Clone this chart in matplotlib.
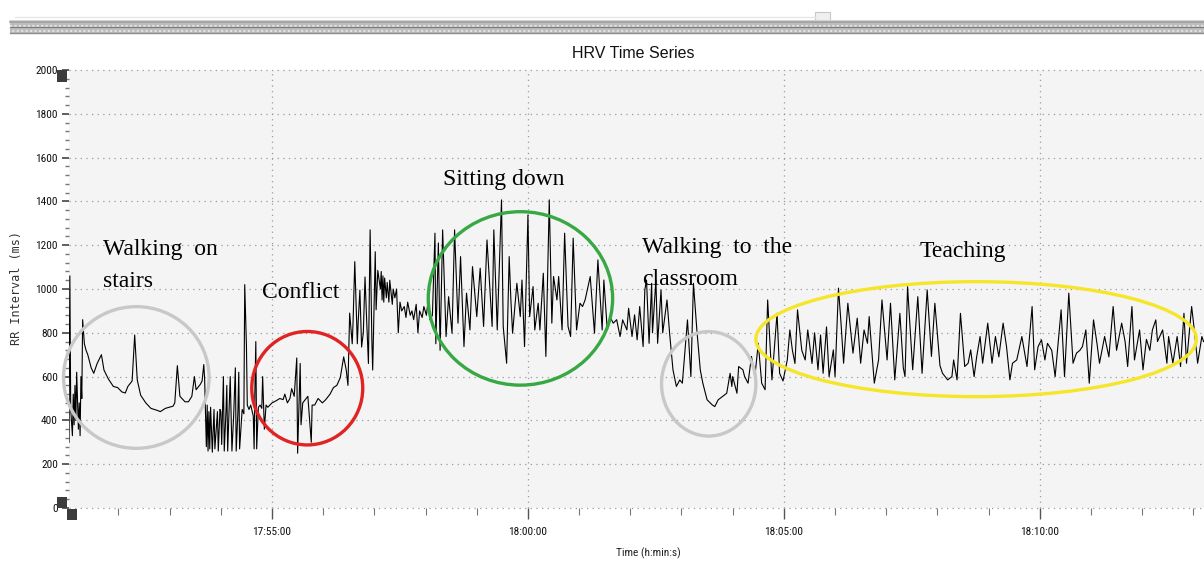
import matplotlib
matplotlib.use('Agg')
import matplotlib.pyplot as plt
from matplotlib import font_manager
from matplotlib.font_manager import FontProperties
from matplotlib.patches import Ellipse, Rectangle
from matplotlib.lines import Line2D
from matplotlib.ticker import FixedLocator, MultipleLocator, FuncFormatter

# ---------------- data (seconds after 17:51:00, RR interval in ms) ----------------
t_walk_stairs = [2, 3, 4, 6, 7, 8, 9, 10, 11, 13, 14, 15, 16, 17, 18, 20, 22, 24, 28, 31, 35, 40, 43, 48, 54,
                 59, 64, 68, 71, 76, 79, 82, 86, 92, 98, 106, 109, 115, 124, 126, 129, 132, 138, 142, 146,
                 149, 151, 156, 158, 160, 161]
rr_walk_stairs = [300, 1060, 450, 330, 520, 380, 560, 400, 620, 360, 480, 330, 600, 500, 860, 750, 720, 700,
                  640, 615, 660, 700, 630, 590, 555, 550, 530, 525, 555, 580, 790, 585, 515, 480, 455, 445,
                  440, 455, 465, 480, 650, 510, 485, 485, 510, 600, 540, 565, 580, 655, 590]

t_noisy = [163, 164, 165, 166, 167, 168, 170, 172, 173, 176, 177, 179, 180, 181, 183, 184, 186, 187, 188, 191,
           192, 193, 195, 197, 198, 200, 201, 202, 205, 207, 208, 210, 211, 213, 215, 218, 219, 220, 221, 222,
           224, 226]
rr_noisy = [280, 470, 260, 440, 270, 460, 255, 450, 270, 440, 260, 450, 440, 290, 600, 260, 440, 560, 260, 600,
            430, 260, 420, 640, 260, 440, 620, 270, 450, 430, 1020, 740, 470, 450, 470, 420, 270, 560, 760, 270,
            460, 470]

t_conflict = [228, 229, 231, 233, 235, 240, 245, 249, 253, 255, 258, 261, 263, 266, 269, 270, 273, 274, 276,
              280, 282, 286, 287, 290, 294, 299, 303, 308, 312, 316, 320, 324, 327, 329]
rr_conflict = [455, 600, 360, 470, 460, 480, 490, 500, 495, 520, 480, 500, 545, 510, 685, 250, 660, 380, 480,
               500, 510, 300, 470, 470, 500, 480, 495, 520, 550, 560, 595, 690, 630, 560]

t_after_conflict = [331, 334, 335, 337, 340, 341, 343, 345, 347, 349, 351, 353, 355, 357, 358, 361, 362, 364,
                    367, 368, 369, 370, 371, 372, 374, 375, 377, 378, 381, 382, 384, 386, 388, 390, 392, 395,
                    397, 399, 402, 404, 406, 409, 411, 413, 416, 418, 421, 423, 425, 428, 431, 432, 435, 437]
rr_after_conflict = [890, 750, 850, 1125, 750, 850, 995, 735, 800, 1055, 850, 660, 1270, 770, 630, 1170, 905,
                     1085, 1000, 1080, 950, 1060, 940, 1050, 960, 1030, 940, 1040, 930, 1000, 960, 1000, 800,
                     940, 900, 920, 870, 940, 880, 900, 860, 930, 800, 900, 870, 920, 880, 950, 860, 880, 1255,
                     750, 1210, 720]

t_sitting = [440, 444, 447, 451, 454, 458, 461, 465, 468, 472, 475, 480, 484, 488, 492, 498, 500, 504, 509, 511,
             515, 518, 520, 522, 527, 531, 533, 536, 540, 542, 546, 548, 552, 554, 558, 561, 565, 568, 570, 574,
             576, 580, 583, 587, 590, 593, 597, 601, 604, 607, 613, 618, 622, 627, 629, 633, 636, 640, 644, 648,
             651, 656, 658, 662]
rr_sitting = [1270, 783, 965, 798, 1270, 844, 1148, 737, 981, 813, 1102, 874, 1095, 829, 1224, 829, 1270, 813,
              1407, 829, 661, 1148, 950, 798, 1026, 874, 1041, 737, 1338, 874, 1011, 813, 935, 813, 1072, 692,
              1407, 844, 1057, 950, 1057, 813, 1255, 829, 783, 1232, 813, 935, 920, 950, 1057, 798, 1133, 813,
              1041, 813, 874, 844, 860, 783, 859, 813, 912, 783]

t_walk_class = [665, 668, 671, 675, 677, 679, 682, 685, 686, 690, 692, 696, 698, 703, 706, 710, 714, 718, 721,
                726, 727, 731, 734, 738, 742, 745, 750, 756, 759, 763, 768, 773, 777, 779, 780, 785, 787, 792,
                794, 798, 802, 806, 810, 814, 818, 821, 826, 832, 835, 839, 844, 847, 850, 853, 856, 861, 865,
                868, 873, 876, 880]
rr_walk_class = [882, 768, 920, 737, 996, 1041, 752, 1026, 800, 1041, 752, 996, 800, 950, 800, 631, 555, 585,
                 570, 813, 859, 600, 1026, 813, 631, 570, 494, 471, 463, 494, 509, 524, 615, 555, 600, 524, 646,
                 631, 600, 570, 692, 600, 752, 570, 540, 950, 585, 889, 615, 580, 676, 813, 720, 660, 905, 720,
                 676, 813, 660, 800, 631]

t_teach_a = [883, 886, 890, 893, 898, 900, 904, 907, 910, 915, 921, 926, 930, 934, 938, 940, 946, 951, 955, 961,
             965, 970, 976, 980, 982, 985, 991, 997, 1002, 1008, 1013, 1017, 1023, 1026, 1032, 1037, 1039, 1043,
             1047, 1052, 1056, 1059, 1063, 1066, 1070, 1073, 1079, 1084, 1088, 1092, 1097, 1101]
rr_teach_a = [790, 615, 827, 600, 722, 600, 1004, 844, 661, 935, 707, 867, 661, 813, 752, 874, 570, 676, 950,
              676, 935, 585, 889, 640, 600, 1011, 631, 965, 615, 996, 692, 935, 650, 615, 585, 600, 676, 585,
              889, 646, 661, 722, 600, 690, 783, 661, 844, 661, 783, 690, 844, 737]

t_teach_b = [1105, 1108, 1113, 1119, 1125, 1131, 1134, 1138, 1142, 1146, 1149, 1154, 1158, 1165, 1169, 1174,
             1179, 1183, 1187, 1190, 1194, 1198, 1203, 1207, 1210, 1216, 1221, 1226, 1230, 1236, 1240, 1243,
             1248, 1251, 1257, 1261, 1265, 1269, 1272, 1276, 1278, 1284, 1289, 1291, 1296, 1301, 1305, 1309,
             1312, 1318, 1322, 1325, 1330, 1332]
rr_teach_b = [585, 661, 676, 783, 646, 920, 631, 737, 768, 676, 752, 720, 600, 905, 600, 981, 661, 707, 720,
              737, 813, 570, 859, 752, 661, 783, 690, 920, 720, 844, 760, 646, 920, 676, 813, 631, 770, 720,
              813, 859, 760, 813, 661, 783, 661, 783, 646, 889, 661, 920, 783, 661, 783, 760]

major_ticks_sec = [240, 540, 840, 1140]  # 17:55, 18:00, 18:05, 18:10

t_all = (t_walk_stairs + t_noisy + t_conflict + t_after_conflict + t_sitting + t_walk_class
         + t_teach_a + t_teach_b)
rr_all = (rr_walk_stairs + rr_noisy + rr_conflict + rr_after_conflict + rr_sitting + rr_walk_class
          + rr_teach_a + rr_teach_b)

# ---------------- fonts ----------------
def find_condensed():
    prefs = ['Liberation Sans Narrow', 'Roboto Condensed', 'Open Sans Condensed', 'Noto Sans Condensed',
             'DejaVu Sans Condensed', 'Arial Narrow']
    fl = font_manager.fontManager.ttflist
    for p in prefs:
        for f in fl:
            if f.name == p and f.style == 'normal' and f.weight in (400, 'normal', 'regular'):
                return f.fname
    for f in fl:
        st = f.stretch
        is_cond = (isinstance(st, str) and 'condensed' in st) or (isinstance(st, (int, float)) and st <= 87.5)
        if is_cond and f.style == 'normal' and f.weight in (400, 'normal', 'regular') and 'Sans' in f.name \
                and 'Mono' not in f.name and 'CJK' not in f.name:
            return f.fname
    return None


cond_path = find_condensed()
if cond_path:
    tick_fp = FontProperties(fname=cond_path, size=8.2)
    xlab_fp = FontProperties(fname=cond_path, size=8.2)
else:
    tick_fp = FontProperties(family=['Liberation Sans', 'DejaVu Sans'], size=7)
    xlab_fp = FontProperties(family=['Liberation Sans', 'DejaVu Sans'], size=7)

# ---------------- figure ----------------
W, H = 1204, 561
fig = plt.figure(figsize=(W / 100, H / 100), dpi=100)
fig.patch.set_facecolor('white')
ax = fig.add_axes([69 / W, 1 - 508 / H, (1204 - 69) / W, (508 - 70) / H])
ax.set_facecolor('#f4f4f4')

ax.plot(t_all, rr_all, color='black', lw=0.8, zorder=3)

ax.set_xlim(2, 1332.5)
ax.set_ylim(0, 2000)
for s in ax.spines.values():
    s.set_visible(False)

ax.xaxis.set_major_locator(FixedLocator(major_ticks_sec))
ax.xaxis.set_minor_locator(MultipleLocator(60))
ax.yaxis.set_major_locator(MultipleLocator(200))
ax.yaxis.set_minor_locator(MultipleLocator(40))


def fmt_time(s, pos):
    total = 17 * 3600 + 51 * 60 + int(round(s))
    return f"{total // 3600}:{(total % 3600) // 60:02d}:{total % 60:02d}"


ax.xaxis.set_major_formatter(FuncFormatter(fmt_time))

grid_kw = dict(color='#9a9a9a', linestyle=(0, (1, 3.5)), linewidth=0.9)
ax.yaxis.grid(True, which='major', **grid_kw)
ax.xaxis.grid(True, which='major', **grid_kw)
for gl in ax.get_ygridlines() + ax.get_xgridlines():
    gl.set_clip_on(False)

ax.tick_params(axis='x', which='major', direction='out', length=8, width=1, color='#555555', pad=6)
ax.tick_params(axis='x', which='minor', direction='out', length=5, width=0.8, color='#777777')
ax.tick_params(axis='y', which='major', direction='out', length=5, width=1.2, color='#444444', pad=3)
ax.tick_params(axis='y', which='minor', direction='out', length=3.2, width=1.0, color='#777777')
for lab in ax.get_xticklabels() + ax.get_yticklabels():
    lab.set_fontproperties(tick_fp)
    lab.set_color('#111111')

# annotation ellipses (data coordinates)
ell = [
    ((80.9, 596), 170.6, 647, '#c8c8c8'),
    ((281.3, 547), 130.1, 518, '#e02424'),
    ((531.2, 957), 216.1, 792, '#38a845'),
    ((751.9, 567), 110.6, 477, '#c8c8c8'),
    ((1065.4, 771), 516.4, 525, '#f5e629'),
]
for (c, w, h, col) in ell:
    e = Ellipse(c, w, h, fill=False, edgecolor=col, lw=2.4, zorder=4, clip_on=False)
    ax.add_patch(e)

serif = ['Liberation Serif', 'DejaVu Serif']
txt_kw = dict(family=serif, fontsize=17, color='black', va='baseline', ha='left', zorder=5)
ax.text(41.9, 1155, "Walking  on", **txt_kw)
ax.text(41.9, 1009, "stairs", **txt_kw)
ax.text(228.3, 959, "Conflict", **txt_kw)
ax.text(440.4, 1475, "Sitting down", **txt_kw)
ax.text(673.6, 1164, "Walking  to  the", **txt_kw)
ax.text(673.6, 1018, "classroom", **txt_kw)
ax.text(998.7, 1146, "Teaching", **txt_kw)

# titles
fig.text(633 / W, 1 - 53 / H, "HRV Time Series", ha='center', va='center', fontsize=11.5,
         family=['Liberation Sans', 'DejaVu Sans'], color='#111111')
fig.text(648 / W, 1 - 553 / H, "Time (h:min:s)", ha='center', va='center', fontproperties=xlab_fp,
         color='#222222')
fig.text(17 / W, 1 - 288 / H, "RR Interval (ms)", ha='center', va='center', fontsize=8.5,
         family=['DejaVu Sans Mono'], rotation=90, color='#333333')


# decorative window bars at top
def hline(y, x0, x1, col, lw, ls='-'):
    fig.add_artist(Line2D([x0 / W, x1 / W], [1 - y / H, 1 - y / H], color=col, lw=lw, linestyle=ls))


hline(16.5, 15, 815, '#e6e6e6', 1.0)
fig.add_artist(Rectangle((10 / W, 1 - 34 / H), 1194 / W, 14 / H, facecolor='#bcbcbc', edgecolor='none'))
hline(20.5, 10, 1204, '#d6d6dc', 1.2)
hline(22.3, 10, 1204, '#9c9c9c', 1.1)
hline(25.5, 10, 1204, '#e0e0e0', 1.6, (0, (1, 1)))
hline(27.0, 10, 1204, '#7a7a7a', 0.8)
hline(30.5, 10, 1204, '#e0e0e0', 1.6, (1, (1, 1)))
hline(32.8, 10, 1204, '#8c8c8c', 1.0)
fig.add_artist(Rectangle((815 / W, 1 - 20 / H), 15 / W, 8 / H, facecolor='#f0f0f0', edgecolor='#c8c8c8',
                         lw=0.8))

# dark slider handles on the left
for (x0, y0, w, h) in [(57, 70, 10, 12), (57, 497, 10, 11), (67, 509, 10, 11)]:
    fig.add_artist(Rectangle((x0 / W, 1 - (y0 + h) / H), w / W, h / H, facecolor='#3c3c3c',
                             edgecolor='none'))

fig.savefig('out.png', dpi=100)
